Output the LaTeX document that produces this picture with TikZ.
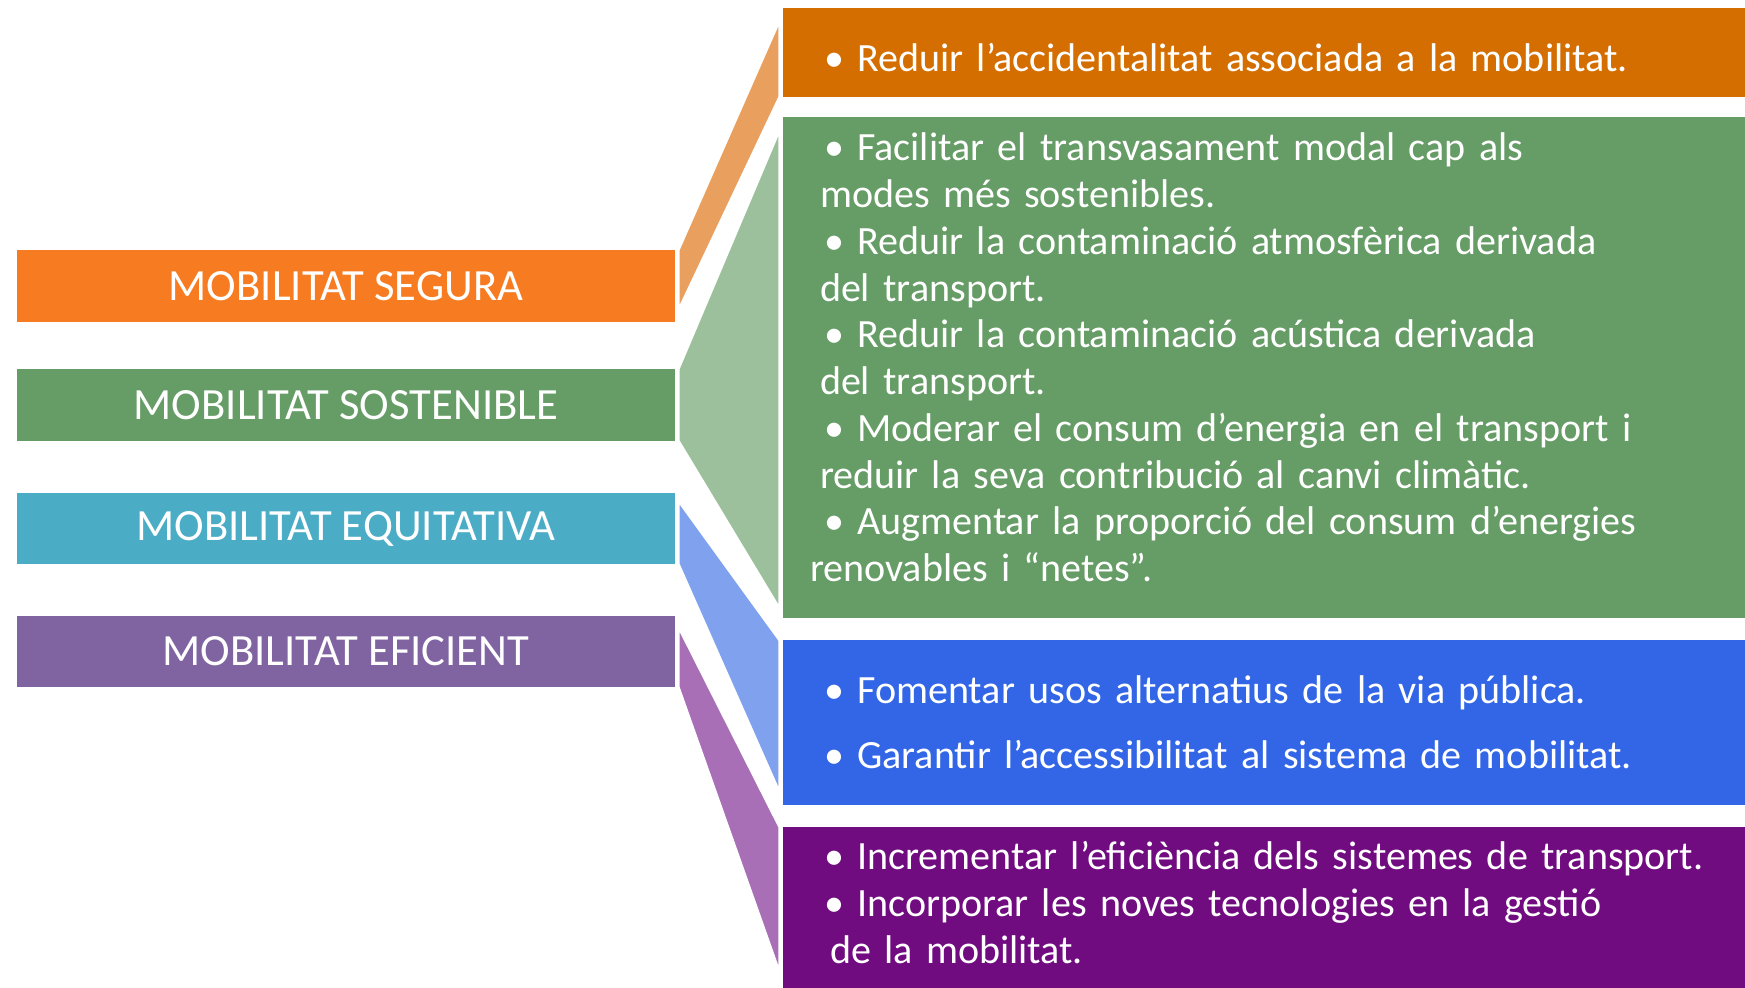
\documentclass[tikz,border=0pt]{standalone}
\usepackage{fontspec}
\setmainfont{Carlito}
\usepackage{xcolor}
\usepackage{tikz}
\usetikzlibrary{backgrounds}

\definecolor{segbar}{RGB}{247,123,32}
\definecolor{segbox}{RGB}{212,110,0}
\definecolor{seglink}{RGB}{233,160,94}
\definecolor{sosbar}{RGB}{102,156,102}
\definecolor{sosbox}{RGB}{102,156,102}
\definecolor{soslink}{RGB}{157,192,156}
\definecolor{equbar}{RGB}{75,172,198}
\definecolor{equbox}{RGB}{50,102,230}
\definecolor{equlink}{RGB}{127,161,238}
\definecolor{efibar}{RGB}{128,100,162}
\definecolor{efibox}{RGB}{112,12,128}
\definecolor{efilink}{RGB}{168,110,182}

\tikzstyle{leftbar} = [rectangle, inner sep=0pt, minimum width=6.58cm, minimum height=0.72cm, text=white, font=\fontsize{12.7}{14}\selectfont]
\tikzstyle{goalbox} = [rectangle, inner sep=0pt, minimum width=9.62cm]
\tikzstyle{goaltext} = [anchor=west, inner xsep=0.37cm, inner ysep=0pt, text width=8.88cm, align=left, text=white, font=\fontsize{11.4}{13.3}\selectfont]
\tikzstyle{link} = [draw=white, line width=0.8mm, line join=round]

\begin{document}
\begin{tikzpicture}
\useasboundingbox (0,0) rectangle (17.45,9.88);

% left labels
\node [leftbar, fill=segbar] at (3.46,7.02) (seg) {MOBILITAT SEGURA};
\node [leftbar, fill=sosbar] at (3.46,5.83) (sos) {MOBILITAT SOSTENIBLE};
\node [leftbar, fill=equbar, minimum height=0.71cm] at (3.46,4.595) (equ) {MOBILITAT EQUITATIVA};
\node [leftbar, fill=efibar, minimum height=0.71cm] at (3.46,3.365) (efi) {MOBILITAT EFICIENT};

% right boxes
\node [goalbox, fill=segbox, minimum height=0.89cm] at (12.64,9.355) (segb) {};
\node [goalbox, fill=sosbox, minimum height=5.01cm] at (12.64,6.205) (sosb) {};
\node [goalbox, fill=equbox, minimum height=1.65cm] at (12.64,2.655) (equb) {};
\node [goalbox, fill=efibox, minimum height=1.61cm] at (12.64,0.805) (efib) {};

% box texts
\node [goaltext] at ([yshift=-0.05cm]segb.west) (segt) {%
\hspace*{0.04cm}• Reduir l’accidentalitat associada a la mobilitat.};

\node [goaltext] at ([yshift=0.1cm]sosb.west) (sost) {%
\hspace*{0.04cm}• Facilitar el transvasament modal cap als\\
modes més sostenibles.\\
\hspace*{0.04cm}• Reduir la contaminació atmosfèrica derivada\\
del transport.\\
\hspace*{0.04cm}• Reduir la contaminació acústica derivada\\
del transport.\\
\hspace*{0.04cm}• Moderar el consum d’energia en el transport i\\
reduir la seva contribució al canvi climàtic.\\
\hspace*{0.04cm}• Augmentar la proporció del consum d’energies\\
\hspace*{-0.1cm}renovables i “netes”.};

\node [goaltext] at (equb.west) (equt) {%
\hspace*{0.04cm}• Fomentar usos alternatius de la via pública.\\[5.2pt]
\hspace*{0.04cm}• Garantir l’accessibilitat al sistema de mobilitat.};

\node [goaltext] at ([yshift=0.05cm]efib.west) (efit) {%
\hspace*{0.04cm}• Incrementar l’eficiència dels sistemes de transport.\\
\hspace*{0.04cm}• Incorporar les noves tecnologies en la gestió\\
\hspace*{0.1cm}de la mobilitat.};

% label -> box
\begin{scope}[on background layer]
\path [link, fill=seglink] (seg.north east) -- (segb.north west) -- (segb.south west) -- (seg.south east) -- cycle;
\path [link, fill=soslink] (sos.north east) -- (sosb.north west) -- (sosb.south west) -- (sos.south east) -- cycle;
\path [link, fill=equlink] (equ.north east) -- (equb.north west) -- (equb.south west) -- (equ.south east) -- cycle;
\path [link, fill=efilink] (efi.north east) -- (efib.north west) -- (efib.south west) -- (efi.south east) -- cycle;
\end{scope}
\end{tikzpicture}
\end{document}
